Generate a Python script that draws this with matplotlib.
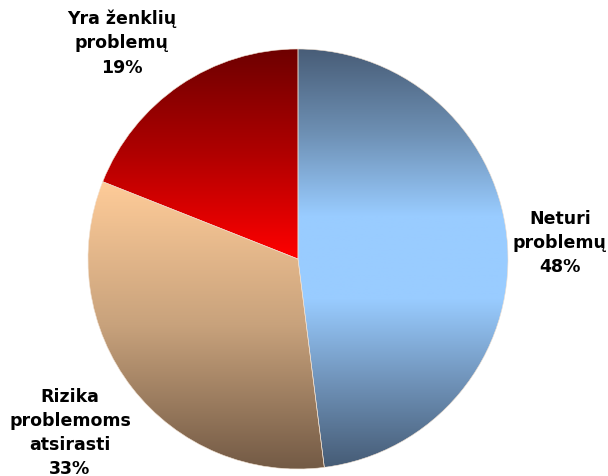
import numpy as np
import matplotlib.pyplot as plt
from matplotlib.colors import LinearSegmentedColormap

# Atsakymų pasiskirstymas
kategorijos = ['Neturi\nproblemų', 'Rizika\nproblemoms\natsirasti', 'Yra ženklių\nproblemų']
procentai = [48, 33, 19]

# Gradientai kiekvienai skilčiai (viršus -> apačia)
gradientai = [
    ['#485d77', '#6d8fb3', '#99ccff', '#99ccff', '#6f92b8', '#465c76'],
    ['#ffcc99', '#c8a27c', '#735a45'],
    ['#6e0000', '#b00000', '#ff0000'],
]
etikeciu_vietos = [(560, 243), (70, 433), (122, 43)]

W, H = 608, 477
cx, cy, r = 298, H - 260, 210

fig = plt.figure(figsize=(W / 100, H / 100), dpi=100)
ax = fig.add_axes([0, 0, 1, 1])

wedges, _ = ax.pie(procentai, startangle=90, counterclock=False,
                   center=(cx, cy), radius=r, frame=True,
                   wedgeprops=dict(linewidth=0.4, edgecolor='#f0e0d0', facecolor='none'))

for w, spalvos in zip(wedges, gradientai):
    ext = w.get_path().get_extents()
    y0, y1 = ext.y0, ext.y1
    cmap = LinearSegmentedColormap.from_list('g', spalvos)
    grad = np.linspace(0, 1, 256).reshape(-1, 1)
    im = ax.imshow(grad, cmap=cmap, aspect='auto', origin='upper',
                   extent=(cx - r, cx + r, y0, y1), zorder=0)
    im.set_clip_path(w)

for (tekstas, p), (x, y) in zip(zip(kategorijos, procentai), etikeciu_vietos):
    ax.text(x, H - y, f'{tekstas}\n{p}%', ha='center', va='center',
            fontsize=12.5, fontweight='bold', linespacing=1.45,
            family='DejaVu Sans')

ax.set_xlim(0, W)
ax.set_ylim(0, H)
ax.set_aspect('auto')
ax.axis('off')

fig.savefig('out.png', dpi=100)
